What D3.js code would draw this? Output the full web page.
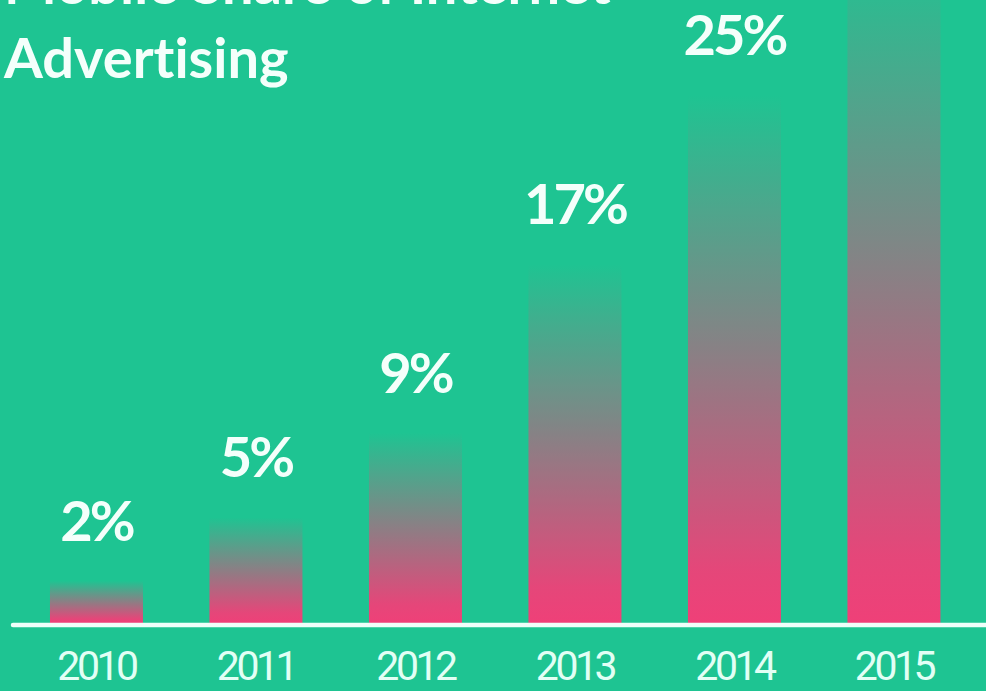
<!DOCTYPE html>
<html>
<head>
<meta charset="utf-8">
<script src="https://cdn.jsdelivr.net/npm/d3@7"></script>
<style>
  html, body { margin: 0; padding: 0; background: #1fc493; overflow: hidden; }
  svg { display: block; }
  text { font-variant-ligatures: none; }
</style>
</head>
<body>
<svg id="chart" width="986" height="691"></svg>
<script>
// Share of internet advertising by year
const years = ["2010", "2011", "2012", "2013", "2014", "2015"];
const shares = [2, 5, 9, 17, 25, 32];
const titleLines = ["Mobile Share of Internet", "Advertising"];

const W = 986, H = 691;
const bg = "#1ec492", pink = "#ef4078", ink = "#f4fffb", axisInk = "#e2fff5";
const baseY = 623;

const svg = d3.select("#chart");
svg.append("rect").attr("width", W).attr("height", H).attr("fill", bg);

const defs = svg.append("defs");
const grad = defs.append("linearGradient")
  .attr("id", "barFade")
  .attr("x1", 0).attr("y1", 1).attr("x2", 0).attr("y2", 0);
grad.append("stop").attr("offset", "0%").attr("stop-color", pink).attr("stop-opacity", 1);
grad.append("stop").attr("offset", "10%").attr("stop-color", pink).attr("stop-opacity", 0.95);
grad.append("stop").attr("offset", "100%").attr("stop-color", pink).attr("stop-opacity", 0);

const x = d3.scaleBand()
  .domain(years)
  .range([16.7, 973.7])
  .paddingInner(0.417)
  .paddingOuter(0.2085);

const y = d3.scaleLinear()
  .domain([0, 25])
  .range([baseY, baseY - 528]);

const data = years.map((yr, i) => ({ year: yr, value: shares[i] }));

// Bars
svg.append("g").selectAll("rect")
  .data(data)
  .join("rect")
  .attr("x", d => x(d.year))
  .attr("width", x.bandwidth())
  .attr("y", d => y(d.value))
  .attr("height", d => y(0) - y(d.value))
  .attr("fill", "url(#barFade)");

// Value labels
svg.append("g").selectAll("text")
  .data(data)
  .join("text")
  .attr("x", d => x(d.year) + x.bandwidth() / 2)
  .attr("y", d => y(d.value) - 40)
  .attr("text-anchor", "middle")
  .attr("fill", ink)
  .attr("font-family", "Lato, 'Open Sans', sans-serif")
  .attr("font-weight", 700)
  .attr("font-size", 56)
  .attr("letter-spacing", -3)
  .text(d => d.value + "%");

// Baseline
svg.append("line")
  .attr("x1", 13).attr("x2", W + 4)
  .attr("y1", baseY + 2).attr("y2", baseY + 2)
  .attr("stroke", "#effffa")
  .attr("stroke-width", 4.5)
  .attr("stroke-linecap", "round");

// Year axis
const xAxis = d3.axisBottom(x).tickSize(0).tickPadding(24);
const ax = svg.append("g")
  .attr("transform", `translate(0,${baseY + 4})`)
  .call(xAxis);
ax.select(".domain").remove();
ax.selectAll("text")
  .attr("fill", axisInk)
  .attr("font-family", "Roboto, 'Open Sans', sans-serif")
  .attr("font-weight", 400)
  .attr("font-size", 41)
  .attr("letter-spacing", -3.5)
  .attr("dy", "0.71em");

// Title
svg.append("g").selectAll("text")
  .data(titleLines)
  .join("text")
  .attr("x", 4)
  .attr("y", (d, i) => 4 + i * 74)
  .attr("fill", ink)
  .attr("font-family", "Lato, 'Open Sans', sans-serif")
  .attr("font-weight", 700)
  .attr("font-size", 56)
  .text(d => d);
</script>
</body>
</html>
